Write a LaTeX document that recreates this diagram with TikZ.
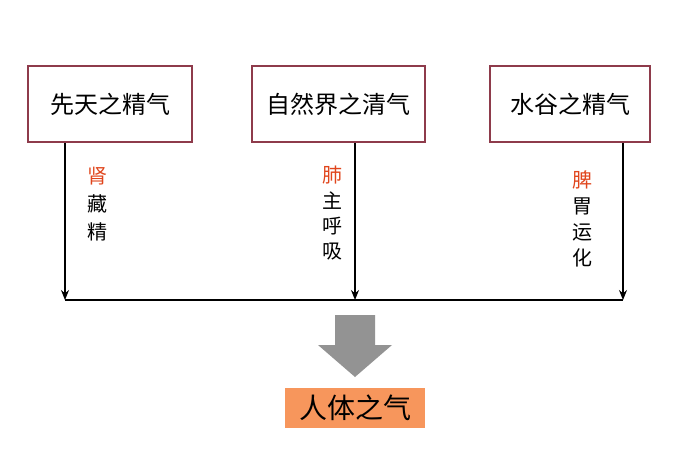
\documentclass[tikz,border=0pt]{standalone}
\usepackage{fontspec}
\newfontfamily\cjk{Noto Sans CJK SC}
\usetikzlibrary{arrows.meta}
\definecolor{bord}{HTML}{8E3B4B}
\definecolor{org}{HTML}{F7965C}
\definecolor{redt}{HTML}{E0451C}
\begin{document}
\begin{tikzpicture}[x=1pt,y=-1pt,
  src/.style={draw=bord,line width=1.5pt,minimum height=76pt,font=\cjk\fontsize{24}{24}\selectfont,inner sep=0pt},
  lab/.style={font=\cjk\fontsize{20}{20}\selectfont,inner sep=0pt},
  red/.style={lab,text=redt},
  conn/.style={line width=1.3pt,-{Stealth[length=10pt,width=8pt]}}]
\useasboundingbox (0,0) rectangle (686,472);
\node[src,minimum width=164pt] (a) at (110,104) {先天之精气};
\node[src,minimum width=173pt] (b) at (338.5,104) {自然界之清气};
\node[src,minimum width=160pt] (c) at (570,104) {水谷之精气};
\coordinate (ea) at (65,300);
\coordinate (eb) at (355,300);
\coordinate (ec) at (623,300);
\draw[conn] (a.south -| ea) -- (ea);
\draw[conn] (b.south -| eb) -- (eb);
\draw[conn] (c.south -| ec) -- (ec);
\draw[line width=1.3pt] (ea) -- (ec);
\node[red] (k1) at (97,176) {肾};
\node[lab] (k2) at (97,204) {藏};
\node[lab] (k3) at (97,232) {精};
\node[red] (l1) at (332,175) {肺};
\node[lab] (l2) at (332,201) {主};
\node[lab] (l3) at (332,226) {呼};
\node[lab] (l4) at (332,252) {吸};
\node[red] (s1) at (582,180) {脾};
\node[lab] (s2) at (582,206) {胃};
\node[lab] (s3) at (582,232) {运};
\node[lab] (s4) at (582,258) {化};
\fill[gray!85] (335,315) -- (375,315) -- (375,345) -- (392,345) -- (355,377) -- (318,345) -- (335,345) -- cycle;
\node[fill=org,minimum width=140pt,minimum height=40pt,font=\cjk\fontsize{28}{28}\selectfont,inner sep=0pt] (r) at (355,408) {人体之气};
\end{tikzpicture}
\end{document}
